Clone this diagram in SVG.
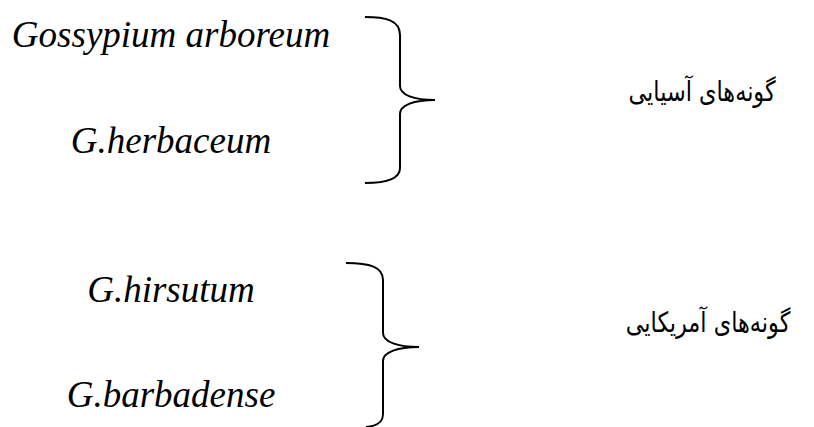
<svg xmlns="http://www.w3.org/2000/svg" width="814" height="427" viewBox="0 0 814 427">
<style>
.lat{font-family:"Liberation Serif","Times New Roman",serif;font-style:italic;font-size:37px;fill:#000;text-anchor:middle}
.fa{font-family:"DejaVu Sans","Noto Sans",sans-serif;font-size:28px;fill:#000;text-anchor:middle}
.brace{fill:none;stroke:#000;stroke-width:2;stroke-linecap:butt}
</style>
<rect width="814" height="427" fill="#fff"/>
<g id="asian">
<text class="lat" x="171" y="47">Gossypium arboreum</text>
<text class="lat" x="171" y="153">G.herbaceum</text>
<text class="fa" transform="translate(702,101) scale(0.8,1)" x="0" y="0">گونه‌های آسیایی</text>
</g>
<g id="american">
<text class="lat" x="171" y="302">G.hirsutum</text>
<text class="lat" x="171" y="407">G.barbadense</text>
<text class="fa" transform="translate(708,332) scale(0.8,1)" x="0" y="0">گونه‌های آمریکایی</text>
</g>
<g id="connectors">
<path class="brace" d="M365,17 C385,17 400,20 400,35 L400,86 C400,95 414,100 435,100 C414,100 400,105 400,114 L400,168 C400,179 385,183 365,183"/>
<path class="brace" d="M346,263 C370,263 383,267 383,280 L383,333 C383,342 398,347 419,347 C398,347 383,352 383,361 L383,414 C383,422 378,426 366,427"/>
</g>
</svg>
